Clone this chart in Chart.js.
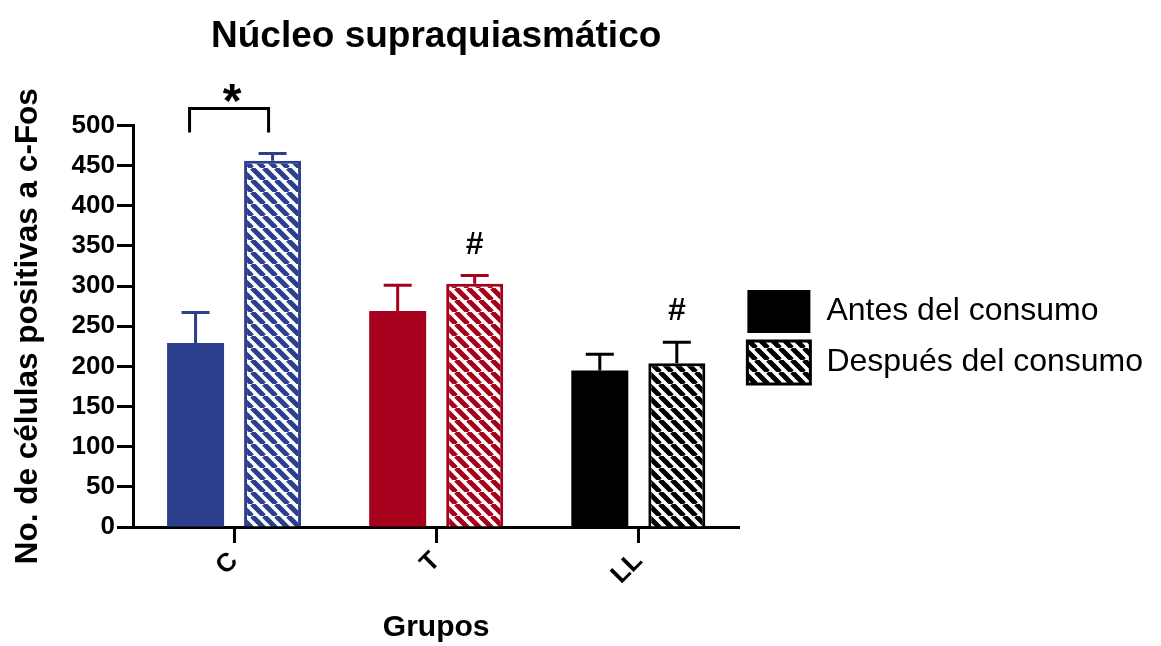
<!DOCTYPE html>
<html>
<head>
<meta charset="utf-8">
<script src="https://cdn.jsdelivr.net/npm/chart.js@4.4.1/dist/chart.umd.min.js"></script>
<style>
  html, body { margin: 0; padding: 0; background: #fff; }
  #wrap { width: 1161px; height: 646px; }
</style>
</head>
<body>
<div id="wrap"><canvas id="chart"></canvas></div>
<script>
const groups = ["C", "T", "LL"];
const antes = [229, 269, 195];
const antesErr = [38, 32, 20];
const despues = [456, 303, 204];
const despuesErr = [9, 10, 26];
const groupColors = ["#2b3f8c", "#a6001c", "#000000"];
const hashMarks = ["", "#", "#"];   // marca sobre "después" por grupo
const starPairs = [{ group: 0, label: "*" }];  // corchete antes vs después
const yMin = 0, yMax = 500, yStep = 50;

const FONT = "'Liberation Sans', Arial, sans-serif";

// trama diagonal "\" sobre blanco
function hatch(color) {
  const s = 12;
  const tile = document.createElement("canvas");
  tile.width = s; tile.height = s;
  const c = tile.getContext("2d");
  c.fillStyle = "#fff";
  c.fillRect(0, 0, s, s);
  c.strokeStyle = color;
  c.lineWidth = 5;
  c.beginPath();
  for (let k = -1; k <= 1; k++) {
    c.moveTo(k * s, 0);
    c.lineTo(k * s + s, s);
  }
  c.stroke();
  return c.createPattern(tile, "repeat");
}

const errorBars = {
  id: "errorBars",
  afterDatasetsDraw(chart) {
    const ctx = chart.ctx;
    const y = chart.scales.y;
    const errs = [antesErr, despuesErr];
    chart.data.datasets.forEach((ds, di) => {
      chart.getDatasetMeta(di).data.forEach((bar, i) => {
        const top = y.getPixelForValue(ds.data[i] + errs[di][i]);
        ctx.save();
        ctx.strokeStyle = groupColors[i];
        ctx.lineWidth = 3;
        ctx.beginPath();
        ctx.moveTo(bar.x, bar.y);
        ctx.lineTo(bar.x, top);
        ctx.moveTo(bar.x - 14, top);
        ctx.lineTo(bar.x + 14, top);
        ctx.stroke();
        ctx.restore();
      });
    });
  },
  afterDraw(chart) {
    const ctx = chart.ctx;
    const y = chart.scales.y;
    const m0 = chart.getDatasetMeta(0).data;
    const m1 = chart.getDatasetMeta(1).data;
    ctx.save();
    ctx.fillStyle = "#000";
    ctx.textAlign = "center";
    ctx.textBaseline = "alphabetic";
    ctx.font = "bold 32px " + FONT;
    hashMarks.forEach((h, i) => {
      if (!h) return;
      const top = y.getPixelForValue(despues[i] + despuesErr[i]);
      ctx.fillText(h, m1[i].x, top - 22);
    });
    starPairs.forEach(p => {
      const g = p.group;
      const top = Math.min(
        y.getPixelForValue(antes[g] + antesErr[g]),
        y.getPixelForValue(despues[g] + despuesErr[g])
      );
      const x1 = m0[g].x - 6, x2 = m1[g].x - 4;
      const yb = top - 21, yt = top - 45;
      ctx.strokeStyle = "#000";
      ctx.lineWidth = 3;
      ctx.beginPath();
      ctx.moveTo(x1, yb);
      ctx.lineTo(x1, yt);
      ctx.lineTo(x2, yt);
      ctx.lineTo(x2, yb);
      ctx.stroke();
      ctx.font = "bold 48px " + FONT;
      ctx.fillText(p.label, (x1 + x2) / 2 + 3, yt + 8);
    });
    ctx.restore();
  }
};

const ctx = document.getElementById("chart").getContext("2d");

new Chart(ctx, {
  type: "bar",
  data: {
    labels: groups,
    datasets: [
      {
        label: "Antes del consumo",
        data: antes,
        backgroundColor: groupColors,
        borderWidth: 0,
      },
      {
        label: "Después del consumo",
        data: despues,
        backgroundColor: groupColors.map(hatch),
        borderColor: groupColors,
        borderWidth: 3,
        borderSkipped: "bottom",
      },
    ],
  },
  options: {
    responsive: true,
    maintainAspectRatio: false,
    animation: false,
    categoryPercentage: 0.762,
    barPercentage: 0.74,
    layout: { padding: { right: 8 } },
    plugins: {
      title: {
        display: true,
        text: "Núcleo supraquiasmático",
        color: "#000",
        fullSize: false,
        font: { family: FONT, size: 37, weight: "bold" },
        padding: { top: 15, bottom: 66 },
      },
      legend: {
        position: "right",
        maxWidth: 440,
        // título vacío: sólo baja un poco las entradas
        title: { display: true, text: " ", color: "#000", font: { size: 20, lineHeight: 1.4 }, padding: 0 },
        labels: {
          color: "#000",
          boxWidth: 63,
          boxHeight: 43,
          padding: 8,
          font: { family: FONT, size: 32 },
          generateLabels: () => [
            { text: "Antes del consumo", fillStyle: "#000", strokeStyle: "#000", fontColor: "#000", lineWidth: 0, datasetIndex: 0 },
            { text: "Después del consumo", fillStyle: hatch("#000"), strokeStyle: "#000", fontColor: "#000", lineWidth: 3, datasetIndex: 1 },
          ],
        },
      },
      tooltip: { enabled: false },
    },
    scales: {
      x: {
        afterFit: (s) => { s.height = 119; },
        border: { color: "#000", width: 3 },
        grid: {
          offset: false,
          drawOnChartArea: false,
          drawTicks: true,
          tickLength: 16,
          tickWidth: 3,
          tickColor: "#000",
        },
        ticks: {
          color: "#000",
          minRotation: 45,
          maxRotation: 45,
          font: { family: FONT, size: 26, weight: "bold" },
        },
        title: {
          display: true,
          text: "Grupos",
          color: "#000",
          font: { family: FONT, size: 30, weight: "bold" },
          padding: { top: 0, bottom: 0 },
        },
      },
      y: {
        min: yMin,
        max: yMax,
        afterFit: (s) => { s.width = 133; },
        border: { color: "#000", width: 3 },
        grid: {
          drawOnChartArea: false,
          drawTicks: true,
          tickLength: 16,
          tickWidth: 3,
          tickColor: "#000",
        },
        ticks: {
          stepSize: yStep,
          color: "#000",
          padding: 2,
          font: { family: FONT, size: 26, weight: "bold" },
        },
        title: {
          display: true,
          text: "No. de células positivas a c-Fos",
          color: "#000",
          font: { family: FONT, size: 31.5, weight: "bold" },
          padding: { top: 9, bottom: 0 },
        },
      },
    },
  },
  plugins: [errorBars],
});
</script>
</body>
</html>
